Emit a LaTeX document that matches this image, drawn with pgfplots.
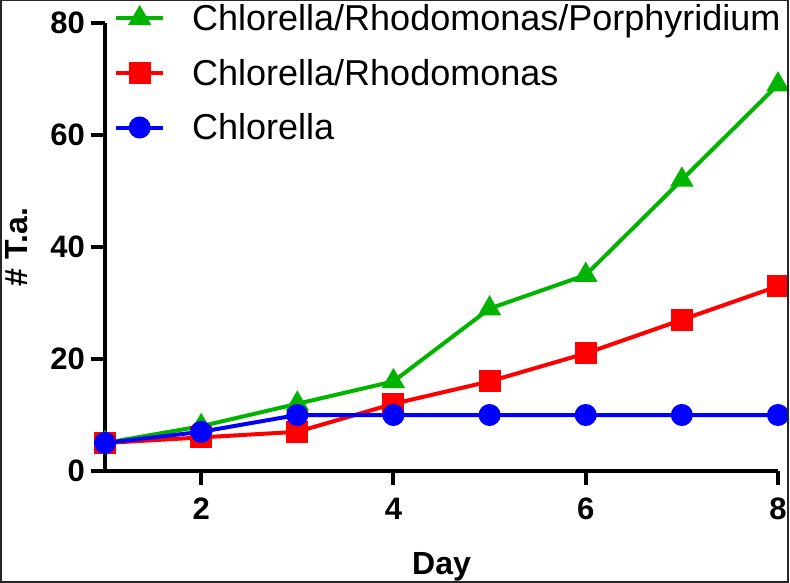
\documentclass[border=0pt]{standalone}
\usepackage{pgfplots}
\pgfplotsset{compat=1.18}
\usepackage{fontspec}
\setmainfont{Liberation Sans}
\definecolor{cgreen}{RGB}{0,180,0}
\definecolor{cred}{RGB}{255,0,0}
\definecolor{cblue}{RGB}{0,0,255}
\newcommand{\tickfont}{\fontsize{31bp}{36bp}\selectfont\bfseries}
\begin{document}
\begin{tikzpicture}
\begin{axis}[
  name=ax,
  scale only axis,
  width=673bp, height=448bp,
  xmin=1, xmax=8, ymin=0, ymax=80,
  axis x line=bottom, axis y line=left,
  axis line style={line width=4bp, -},
  xtick={2,4,6,8}, ytick={0,20,40,60,80},
  xticklabels={2,4,6,8}, yticklabels={0,20,40,60,80},
  tick align=outside,
  major tick length=14bp,
  tick style={line width=4bp, black},
  xticklabel style={font=\tickfont, inner sep=0pt, yshift=-13bp},
  yticklabel style={font=\tickfont, inner sep=0pt, xshift=-6bp},
  xlabel={Day}, ylabel={\# T.a.},
  label style={font=\fontsize{32bp}{38bp}\selectfont\bfseries},
  xlabel style={at={(axis description cs:0.5,0)}, anchor=base, yshift=-103bp},
  ylabel style={at={(axis description cs:-0.1308,0.5)}, anchor=center},
  clip=false,
  every axis plot/.append style={line width=4bp},
  legend style={at={(axis description cs:0.0134,1.046)}, anchor=north west,
    draw=none, fill=none, inner sep=0pt, row sep=23bp,
    font=\fontsize{36bp}{42bp}\selectfont,
    /tikz/every odd column/.append style={column sep=25bp}},
  legend cell align=left,
  legend image code/.code={\draw[mark repeat=2, mark phase=2, #1] plot coordinates {(0bp,0bp) (23.5bp,0bp) (47bp,0bp)};},
]
\addplot[cgreen, mark=triangle*, mark size=9.5bp, mark options={solid}] coordinates {
  (1,5) (2,8) (3,12) (4,16) (5,29) (6,35) (7,52) (8,69)};
\addlegendentry{Chlorella/Rhodomonas/Porphyridium}
\addplot[cred, mark=square*, mark size=9bp] coordinates {
  (1,5) (2,6) (3,7) (4,12) (5,16) (6,21) (7,27) (8,33)};
\addlegendentry{Chlorella/Rhodomonas}
\addplot[cblue, mark=*, mark size=9bp] coordinates {
  (1,5) (2,7) (3,10) (4,10) (5,10) (6,10) (7,10) (8,10)};
\addlegendentry{Chlorella}
\end{axis}
\draw[line width=2bp, black!85] ([shift={(-104bp,-110.5bp)}]ax.south west) rectangle ([shift={(682.5bp,470.5bp)}]ax.south west);
\pgfresetboundingbox
\path[use as bounding box] ([shift={(-105bp,-112bp)}]ax.south west) rectangle ([shift={(685bp,471bp)}]ax.south west);
\end{tikzpicture}
\end{document}
